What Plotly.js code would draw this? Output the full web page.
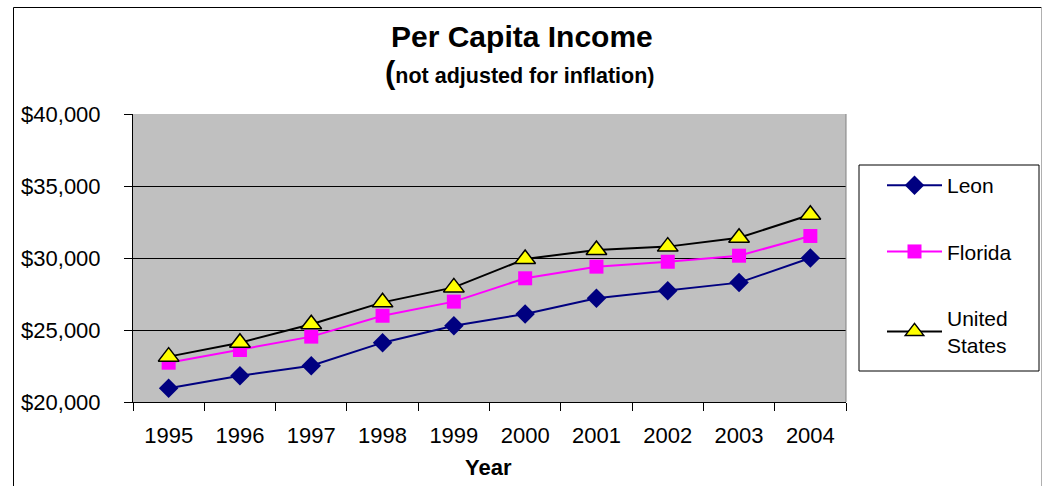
<!DOCTYPE html>
<html>
<head>
<meta charset="utf-8">
<script src="https://cdn.plot.ly/plotly-3.0.1.min.js"></script>
<style>
html,body{margin:0;padding:0;background:#fff;}
#chart{width:1043px;height:486px;}
</style>
</head>
<body>
<div id="chart"></div>
<script>
// ---- data ----
var years = ["1995","1996","1997","1998","1999","2000","2001","2002","2003","2004"];
var leon = [20950, 21830, 22520, 24120, 25300, 26110, 27200, 27730, 28290, 30000];
var florida = [22730, 23610, 24540, 25990, 26970, 28590, 29400, 29740, 30160, 31530];
var unitedStates = [23150, 24120, 25400, 26920, 27960, 29930, 30560, 30790, 31410, 33000];
var seriesNames = ["Leon", "Florida", "United<br>States"];

// ---- layout geometry (pixels) ----
var W = 1043, H = 486;
var PL = 133, PR = 846, PT = 114, PB = 402;
function px(x){ return (x - PL) / (PR - PL); }
function py(y){ return (PB - y) / (PB - PT); }

var FONT = "Arial, 'Liberation Sans', sans-serif";

var traces = [
  {x: years, y: leon, name: seriesNames[0], type: "scatter", mode: "lines+markers",
   legendgroup: "a",
   line: {color: "#000080", width: 2},
   marker: {symbol: "diamond", size: 15, color: "#000080", line: {width: 0}}},
  {x: years, y: florida, name: seriesNames[1], type: "scatter", mode: "lines+markers",
   legendgroup: "b",
   line: {color: "#FF00FF", width: 2},
   marker: {symbol: "square", size: 14, color: "#FF00FF", line: {width: 0}}},
  {x: years, y: unitedStates, name: seriesNames[2], type: "scatter", mode: "lines+markers",
   legendgroup: "c",
   line: {color: "#000000", width: 2},
   marker: {symbol: "triangle-up", size: 18, color: "#FFFF00", line: {width: 1.5, color: "#000000"}}}
];

var layout = {
  width: W, height: H,
  margin: {l: PL, r: W - PR, t: PT, b: H - PB, pad: 0},
  paper_bgcolor: "#ffffff",
  plot_bgcolor: "#C0C0C0",
  font: {family: FONT, color: "#000000", size: 22},
  showlegend: true,
  legend: {
    x: px(882), y: py(165), xanchor: "left", yanchor: "top",
    bgcolor: "rgba(0,0,0,0)", borderwidth: 0,
    font: {family: FONT, size: 21, color: "#000"},
    tracegroupgap: 36, traceorder: "grouped", itemwidth: 55
  },
  xaxis: {
    type: "category",
    range: [-0.5, 9.5],
    showgrid: false,
    showline: true, linecolor: "#000", linewidth: 1,
    ticks: "outside", tickson: "boundaries", ticklen: 8, tickcolor: "#000", tickwidth: 1,
    ticklabelstandoff: 14,
    tickfont: {family: FONT, size: 22, color: "#000"},
    zeroline: false, fixedrange: true
  },
  yaxis: {
    range: [20000, 40000],
    dtick: 5000, tick0: 20000,
    tickprefix: "$", tickformat: ",d",
    showgrid: true, gridcolor: "#000", gridwidth: 1,
    showline: true, linecolor: "#000", linewidth: 1,
    ticks: "outside", ticklen: 8, tickcolor: "#000", tickwidth: 1,
    ticklabelstandoff: 19,
    tickfont: {family: FONT, size: 22, color: "#000"},
    zeroline: false, fixedrange: true
  },
  shapes: [
    {type: "line", xref: "paper", yref: "paper", x0: 1, x1: 1, y0: 0, y1: 1,
     line: {color: "#808080", width: 1}},
    {type: "rect", xref: "paper", yref: "paper",
     x0: px(859), x1: px(1039), y0: py(371), y1: py(165),
     line: {color: "#000", width: 1}, fillcolor: "rgba(0,0,0,0)"},
    {type: "line", xref: "paper", yref: "paper", x0: px(13.5), x1: px(13.5), y0: py(7.5), y1: py(500),
     line: {color: "#000", width: 1}},
    {type: "line", xref: "paper", yref: "paper", x0: px(13.5), x1: px(1041.5), y0: py(7.5), y1: py(7.5),
     line: {color: "#000", width: 1}},
    {type: "line", xref: "paper", yref: "paper", x0: px(1041.5), x1: px(1041.5), y0: py(7.5), y1: py(500),
     line: {color: "#B0B0B0", width: 1}}
  ],
  annotations: [
    {text: "<b>Per Capita Income</b>", xref: "paper", yref: "paper",
     x: px(521.5), y: py(37), xanchor: "center", yanchor: "middle", showarrow: false,
     font: {family: FONT, size: 30, color: "#000"}},
    {text: "<b><span style=\"font-size:31px\">(</span>not adjusted for inflation)</b>", xref: "paper", yref: "paper",
     x: px(520), y: py(72), xanchor: "center", yanchor: "middle", showarrow: false,
     font: {family: FONT, size: 21.5, color: "#000"}},
    {text: "<b>Year</b>", xref: "paper", yref: "paper",
     x: px(488), y: py(467), xanchor: "center", yanchor: "middle", showarrow: false,
     font: {family: FONT, size: 22, color: "#000"}}
  ]
};

Plotly.newPlot("chart", traces, layout, {displayModeBar: false, staticPlot: true});
</script>
</body>
</html>
